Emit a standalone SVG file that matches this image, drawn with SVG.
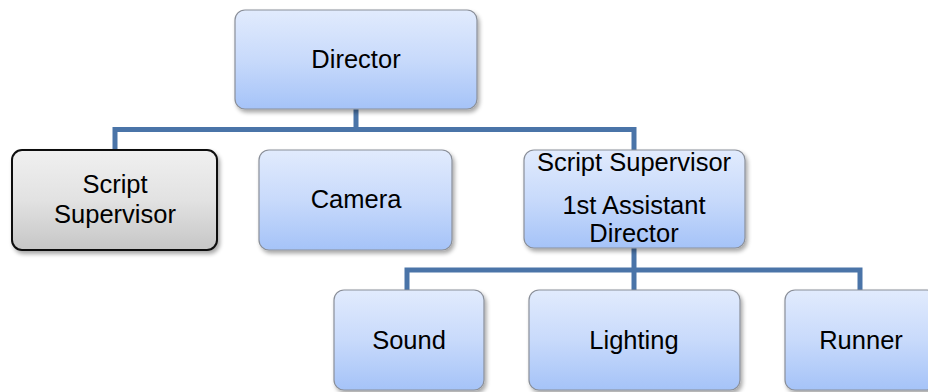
<svg xmlns="http://www.w3.org/2000/svg" width="928" height="392" viewBox="0 0 928 392">
  <style>
    .box { fill: url(#blueFill); stroke: #8a8f99; stroke-width: 1.2; filter: url(#shadow); }
    .grey { fill: url(#greyFill); stroke: #111111; stroke-width: 2; filter: url(#shadow); }
    .link { fill: none; stroke: #4a74a8; stroke-width: 5; stroke-linejoin: miter; }
    text { font-family: "Liberation Sans", Arial, sans-serif; font-size: 25.5px; fill: #000000; text-anchor: middle; }
  </style>
  <defs>
    <linearGradient id="blueFill" x1="0" y1="0" x2="0" y2="1">
      <stop offset="0" stop-color="#e1ebfd"/>
      <stop offset="0.5" stop-color="#c8dafb"/>
      <stop offset="1" stop-color="#a5c3f8"/>
    </linearGradient>
    <linearGradient id="greyFill" x1="0" y1="0" x2="0" y2="1">
      <stop offset="0" stop-color="#f0f0f0"/>
      <stop offset="0.5" stop-color="#e2e2e2"/>
      <stop offset="1" stop-color="#c6c6c6"/>
    </linearGradient>
    <filter id="shadow" x="-10%" y="-10%" width="125%" height="130%">
      <feGaussianBlur in="SourceAlpha" stdDeviation="2"/>
      <feOffset dx="1.5" dy="3" result="blur"/>
      <feComponentTransfer><feFuncA type="linear" slope="0.35"/></feComponentTransfer>
      <feMerge><feMergeNode/><feMergeNode in="SourceGraphic"/></feMerge>
    </filter>
  </defs>

  <!-- connectors -->
  <g id="connectors">
    <path class="link" d="M356 109 V129.5 M115 152 V129.5 H634 V152"/>
    <path class="link" d="M634 248 V270 M407 292 V270 H860 V292 M634 270 V292"/>
  </g>

  <g id="director">
    <rect class="box" x="235" y="10" width="242" height="99" rx="10"/>
    <text x="356" y="68">Director</text>
  </g>

  <g id="script-supervisor">
    <rect class="grey" x="12" y="150" width="205" height="100" rx="10"/>
    <text x="115" y="193">Script</text>
    <text x="115" y="223">Supervisor</text>
  </g>

  <g id="camera">
    <rect class="box" x="259" y="150" width="193" height="100" rx="10"/>
    <text x="356" y="208">Camera</text>
  </g>

  <g id="assistant-director">
    <rect class="box" x="524" y="150" width="221" height="98" rx="10"/>
    <text x="634" y="171">Script Supervisor</text>
    <text x="634" y="214">1st Assistant</text>
    <text x="634" y="242">Director</text>
  </g>

  <g id="sound">
    <rect class="box" x="334" y="290" width="150" height="100" rx="10"/>
    <text x="409" y="349">Sound</text>
  </g>

  <g id="lighting">
    <rect class="box" x="529" y="290" width="211" height="100" rx="10"/>
    <text x="634" y="349">Lighting</text>
  </g>

  <g id="runner">
    <rect class="box" x="785" y="290" width="152" height="100" rx="10"/>
    <text x="861" y="349">Runner</text>
  </g>
</svg>
